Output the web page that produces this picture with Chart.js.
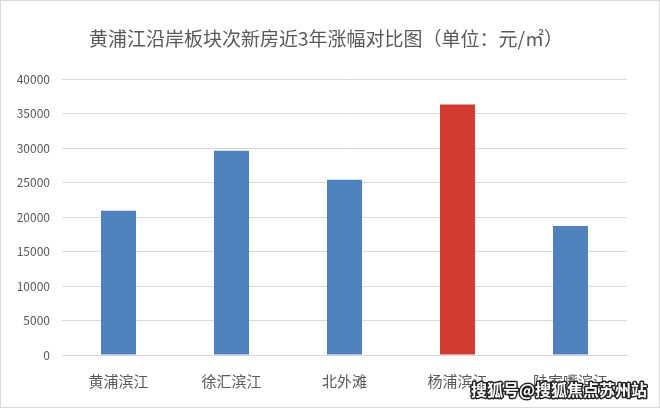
<!DOCTYPE html>
<html><head><meta charset="utf-8">
<script src="https://cdn.jsdelivr.net/npm/chart.js@4.4.0/dist/chart.umd.min.js"></script>
<style>
html,body{margin:0;padding:0;background:#fff;}
#wrap{position:relative;width:660px;height:408px;box-sizing:border-box;border:1px solid #d9d9d9;}
canvas{display:block;}
</style></head>
<body><div id="wrap"><canvas id="c" width="658" height="406"></canvas></div>
<script>
const titleText = '黄浦江沿岸板块次新房近3年涨幅对比图（单位：元/㎡）';
const categories = ['黄浦滨江', '徐汇滨江', '北外滩', '杨浦滨江', '陆家嘴滨江'];
const values = [20900, 29600, 25400, 36300, 18700];
const barColors = ['#4F81BD', '#4F81BD', '#4F81BD', '#D13B32', '#4F81BD'];
const yTicks = [0, 5000, 10000, 15000, 20000, 25000, 30000, 35000, 40000];
const watermark = '搜狐号@搜狐焦点苏州站';

const FONT = '"Noto Sans CJK SC", "Noto Sans", sans-serif';

const titlePlugin = {
  id: 'ctitle',
  afterDraw(chart) {
    const ctx = chart.ctx;
    ctx.save();
    ctx.font = '19px ' + FONT;
    ctx.textAlign = 'center';
    ctx.textBaseline = 'middle';
    ctx.fillStyle = '#595959';
    ctx.fillText(titleText, 325, 38);
    ctx.restore();
  }
};

const wmPlugin = {
  id: 'wm',
  afterDraw(chart) {
    const ctx = chart.ctx;
    ctx.save();
    ctx.font = 'bold 16px ' + FONT;
    ctx.textAlign = 'right';
    ctx.textBaseline = 'middle';
    ctx.lineWidth = 3;
    ctx.strokeStyle = '#222';
    ctx.lineJoin = 'round';
    ctx.strokeText(watermark, 646, 389);
    ctx.fillStyle = '#fff';
    ctx.fillText(watermark, 646, 389);
    ctx.restore();
  }
};

new Chart(document.getElementById('c'), {
  type: 'bar',
  data: {
    labels: categories,
    datasets: [{ data: values, backgroundColor: barColors, barPercentage: 0.31, categoryPercentage: 1 }]
  },
  options: {
    responsive: false,
    animation: false,
    devicePixelRatio: 1,
    layout: { padding: { left: 0, right: 32, top: 78, bottom: 0 } },
    plugins: {
      legend: { display: false },
      tooltip: { enabled: false },
      title: { display: false }
    },
    scales: {
      y: {
        min: 0, max: 40000,
        afterBuildTicks(s) { s.ticks = yTicks.map(v => ({ value: v })); },
        afterFit(s) { s.width = 61; },
        border: { display: false },
        grid: { color: '#D9D9D9', drawTicks: false, lineWidth: 1 },
        ticks: { padding: 12, color: '#595959', font: { family: FONT, size: 12 },
                 callback: v => String(v) }
      },
      x: {
        afterFit(s) { s.height = 52; },
        border: { display: true, color: '#D9D9D9' },
        grid: { display: false, drawTicks: false },
        ticks: { padding: 17, color: '#595959', font: { family: FONT, size: 15 }, maxRotation: 0 }
      }
    }
  },
  plugins: [titlePlugin, wmPlugin]
});
</script></body></html>
